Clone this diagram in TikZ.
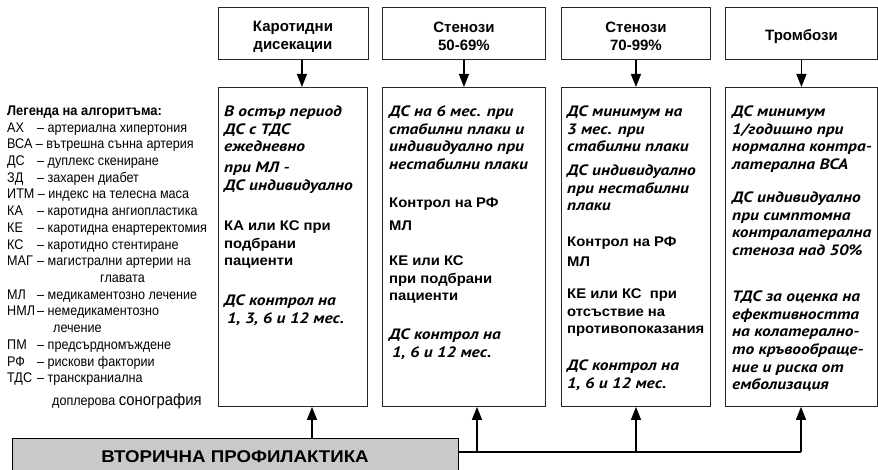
\documentclass[tikz,border=0pt]{standalone}
\usepackage{fontspec}
\setmainfont{Liberation Sans}
\newfontfamily\legfont[FakeStretch=0.9]{Liberation Sans}
\newfontfamily\legtfont[FakeStretch=0.92]{Liberation Sans}
\newfontfamily\bodyfont[FakeStretch=1.06]{Liberation Sans}
\newfontfamily\itfont[FakeStretch=1.16]{PT Sans}
\newfontfamily\profont[FakeStretch=1.1]{Liberation Sans}
\usetikzlibrary{arrows.meta}
\newcommand\txtlines[5]{\foreach \t [count=\i from 0] in {#5} {\node[#1,anchor=base west] (#2-\i) at (#3,#4+17.6*\i) {\t};}}
\newcommand\legrow[4]{\node[leg,anchor=base west] (#4a) at (7,#1) {#2};\node[leg,anchor=base west] (#4b) at (37,#1) {– #3};}
\begin{document}
\begin{tikzpicture}[x=1pt,y=-1pt,
  box/.style={draw=black!85,line width=0.9pt,inner sep=0pt,anchor=north west},
  ttl/.style={inner sep=0pt,font=\bfseries\fontsize{15}{18}\selectfont,align=center},
  it/.style={inner sep=0pt,font=\itfont\bfseries\itshape\fontsize{15}{17.6}\selectfont},
  bd/.style={inner sep=0pt,font=\bodyfont\bfseries\fontsize{14}{17.6}\selectfont},
  leg/.style={inner sep=0pt,font=\legfont\fontsize{14}{16}\selectfont},
  arr/.style={line width=1.3pt,-{Triangle[width=10pt,length=13pt]}},
  ln/.style={line width=1.3pt}]
\clip (0,0) rectangle (878,470);
\fill[white] (0,0) rectangle (878,470);
% top boxes
\node[box,minimum width=150pt,minimum height=52pt] (t1) at (217.5,7) {};
\node[box,minimum width=163pt,minimum height=52pt] (t2) at (382,7) {};
\node[box,minimum width=149pt,minimum height=52pt] (t3) at (561,7) {};
\node[box,minimum width=152pt,minimum height=52pt] (t4) at (725,7) {};
\node[ttl] (t1x) at ([yshift=-3pt]t1.center) {Каротидни\\дисекации};
\node[ttl] (t2x) at ([yshift=-3pt]t2.center) {Стенози\\50-69\%};
\node[ttl] (t3x) at ([yshift=-3pt]t3.center) {Стенози\\70-99\%};
\node[ttl] (t4x) at ([yshift=-3pt]t4.center) {Тромбози};
% lower boxes
\node[box,minimum width=149.5pt,minimum height=319pt] (b1) at (217.5,87) {};
\node[box,minimum width=163pt,minimum height=319pt] (b2) at (382,87) {};
\node[box,minimum width=149pt,minimum height=319pt] (b3) at (561,87) {};
\node[box,minimum width=152pt,minimum height=319pt] (b4) at (725,87) {};
% arrows top -> lower
\draw[arr] ([xshift=9pt]t1.south) -- ([xshift=9pt]t1.south |- b1.north);
\draw[arr] (t2.south) -- (b2.north);
\draw[arr] (t3.south) -- (b3.north);
\draw[arr] (t4.south) -- (b4.north);
% box 1 text
\txtlines{it}{b1a}{224}{116.8}{В остър период,ДС с ТДС,ежедневно}
\txtlines{it}{b1b}{224}{172.8}{при МЛ -,ДС индивидуално}
\txtlines{bd}{b1c}{224}{230.6}{КА или КС при,подбрани,пациенти}
\txtlines{it}{b1d}{224}{305.8}{ДС контрол на,{\hspace{3pt}1, 3, 6 и 12 мес.}}
% box 2 text
\txtlines{it}{b2a}{389}{116.8}{ДС на 6 мес. при,стабилни плаки и,индивидуално при,нестабилни плаки}
\txtlines{bd}{b2b}{389}{207.6}{Контрол на РФ}
\txtlines{bd}{b2c}{389}{230.6}{МЛ}
\txtlines{bd}{b2d}{389}{265.6}{КЕ или КС,при подбрани,пациенти}
\txtlines{it}{b2e}{389}{339.8}{ДС контрол на,{\hspace{3pt}1, 6 и 12 мес.}}
% box 3 text
\txtlines{it}{b3a}{567}{116.8}{ДС минимум на,3 мес. при,стабилни плаки}
\txtlines{it}{b3b}{567}{175.8}{ДС индивидуално,при нестабилни,плаки}
\txtlines{bd}{b3c}{567}{246.6}{Контрол на РФ}
\txtlines{bd}{b3d}{567}{266.6}{МЛ}
\txtlines{bd}{b3e}{567}{298.6}{КЕ или КС\ \ при,отсъствие на,противопоказания}
\txtlines{it}{b3f}{567}{370.8}{ДС контрол на,{1, 6 и 12 мес.}}
% box 4 text
\txtlines{it}{b4a}{732}{116.8}{ДС минимум,1/годишно при,нормална контра-,латерална ВСА}
\txtlines{it}{b4b}{732}{202.8}{ДС индивидуално,при симптомна,контралатерална,стеноза над 50\%}
\txtlines{it}{b4c}{732}{301.8}{ТДС за оценка на,ефективността,на колатерално-,то кръвообраще-,ние и риска от,емболизация}
% legend
\node[inner sep=0pt,anchor=base west,font=\legtfont\bfseries\fontsize{14}{16}\selectfont] (lt) at (7,115.5) {Легенда на алгоритъма:};
\legrow{132.2}{АХ}{артериална хипертония}{l1}
\node[leg,anchor=base west] (l2) at (7,148.9) {ВСА – вътрешна сънна артерия};
\legrow{165.6}{ДС}{дуплекс скениране}{l3}
\legrow{182.3}{ЗД}{захарен диабет}{l4}
\node[leg,anchor=base west] (l5) at (7,199) {ИТМ – индекс на телесна маса};
\legrow{215.7}{КА}{каротидна ангиопластика}{l6}
\legrow{232.4}{КЕ}{каротидна енартеректомия}{l7}
\legrow{249.1}{КС}{каротидно стентиране}{l8}
\legrow{265.8}{МАГ}{магистрални артерии на}{l9}
\node[leg,anchor=base west] (l9c) at (100,282.5) {главата};
\legrow{299.2}{МЛ}{медикаментозно лечение}{l10}
\legrow{315.9}{НМЛ}{немедикаментозно}{l11}
\node[leg,anchor=base west] (l11c) at (53,332.6) {лечение};
\legrow{349.3}{ПМ}{предсърдномъждене}{l12}
\legrow{366}{РФ}{рискови фактории}{l13}
\legrow{382.7}{ТДС}{транскраниална}{l14}
\node[leg,anchor=base west] (l14c) at (52,405) {доплерова {\fontsize{16.5}{18}\selectfont сонография}};
% bottom
\node[box,fill=black!21,draw=black,minimum width=446pt,minimum height=44pt] (prof) at (12,438) {};
\node[font=\profont\bfseries\fontsize{17}{18}\selectfont,inner sep=0pt] (proftxt) at (235,457) {ВТОРИЧНА ПРОФИЛАКТИКА};
\coordinate (j1) at (312,438);
\coordinate (j2) at (477,452);
\coordinate (j3) at (636,452);
\coordinate (j4) at (801,452);
\draw[arr] (j1 |- prof.north) -- (j1 |- b1.south);
\draw[ln] (prof.north east |- j2) -- (j4);
\draw[arr] (j2) -- (j2 |- b2.south);
\draw[arr] (j3) -- (j3 |- b3.south);
\draw[arr] (j4) -- (j4 |- b4.south);
\end{tikzpicture}
\end{document}
